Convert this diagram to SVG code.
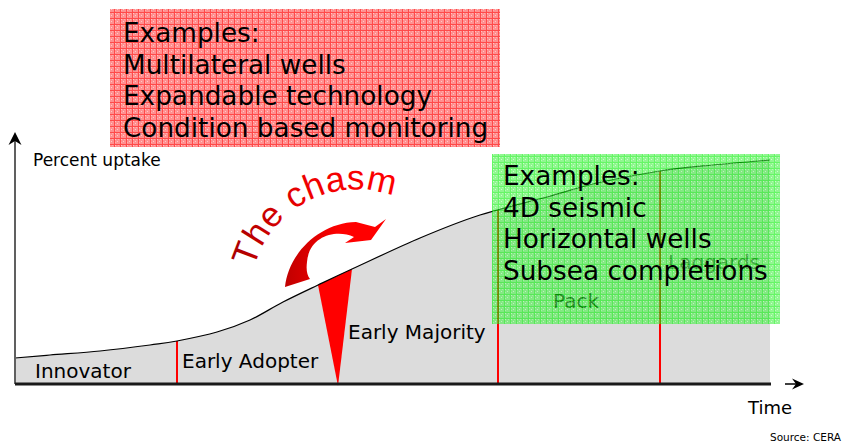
<svg xmlns="http://www.w3.org/2000/svg" width="857" height="443" viewBox="0 0 857 443">
<style>
.t{font-family:"DejaVu Sans",Verdana,sans-serif;fill:#000}
.big{font-size:26.3px}
.lbl{font-size:20px}
.red{stroke:#ff0000;stroke-width:2;fill:none}
</style>
<defs>
<pattern id="pr" width="6" height="6" patternUnits="userSpaceOnUse">
<rect width="6" height="6" fill="#ff9090"/>
<rect x="1" y="1" width="1" height="1" fill="#ffc8c8"/>
<rect x="3" y="3" width="1" height="1" fill="#ffc8c8"/>
<rect x="4" y="1" width="1" height="1" fill="#ffb0b0"/>
<rect x="1" y="4" width="1" height="1" fill="#ffb0b0"/>
<rect width="6" height="1" fill="#ff4a4a"/>
<rect width="1" height="6" fill="#ff4a4a"/>
</pattern>
<pattern id="pg" width="6" height="6" patternUnits="userSpaceOnUse">
<rect width="6" height="6" fill="#48f048"/>
<rect x="1" y="1" width="1" height="1" fill="#a8ffa8"/>
<rect x="3" y="3" width="1" height="1" fill="#a8ffa8"/>
<rect x="4" y="1" width="1" height="1" fill="#80ff80"/>
<rect x="1" y="4" width="1" height="1" fill="#80ff80"/>
<rect width="6" height="1" fill="#00f000"/>
<rect width="1" height="6" fill="#00f000"/>
</pattern>
<linearGradient id="ga" gradientUnits="userSpaceOnUse" x1="285" y1="0" x2="386" y2="0">
<stop offset="0" stop-color="#c00000"/>
<stop offset="0.55" stop-color="#ff0000"/>
<stop offset="1" stop-color="#ff0000"/>
</linearGradient>
<linearGradient id="gt" gradientUnits="userSpaceOnUse" x1="232" y1="0" x2="395" y2="0">
<stop offset="0" stop-color="#a80000"/>
<stop offset="0.45" stop-color="#ee0000"/>
<stop offset="1" stop-color="#ff0000"/>
</linearGradient>
<path id="arc" d="M254,268 A106,106 0 0 1 393,196"/>
</defs>

<g id="uptake-area">
<path d="M15,358 C20.8,357.5 35.8,356.2 50,355 C64.2,353.8 83.3,352.7 100,351 C116.7,349.3 137.2,346.7 150,345 C162.8,343.3 165.8,343.2 177,341 C188.2,338.8 204.8,335.5 217,332 C229.2,328.5 239,325 250,320 C261,315 271.7,307.8 283,302 C294.3,296.2 306.5,290.5 318,285 C329.5,279.5 335,276.8 352,269 C369,261.2 398.7,247 420,238 C441.3,229 458.8,221.8 480,215 C501.2,208.2 527.5,202.3 547,197 C566.5,191.7 578.2,187.3 597,183 C615.8,178.7 640.7,174 660,171 C679.3,168 694.7,166.8 713,165 C731.3,163.2 760.5,160.8 770,160 L770,384 L15,384 Z" fill="#dcdcdc"/>
</g>

<g id="chasm-wedge">
<polygon points="318,285 352,269 338,386" fill="#ff0000"/>
</g>

<g id="segment-dividers">
<line class="red" x1="177" y1="341" x2="177" y2="384"/>
<line class="red" x1="498" y1="210" x2="498" y2="384"/>
<line class="red" x1="660" y1="171" x2="660" y2="384"/>
</g>

<g id="uptake-curve">
<path d="M15,358 C20.8,357.5 35.8,356.2 50,355 C64.2,353.8 83.3,352.7 100,351 C116.7,349.3 137.2,346.7 150,345 C162.8,343.3 165.8,343.2 177,341 C188.2,338.8 204.8,335.5 217,332 C229.2,328.5 239,325 250,320 C261,315 271.7,307.8 283,302 C294.3,296.2 306.5,290.5 318,285 C329.5,279.5 335,276.8 352,269 C369,261.2 398.7,247 420,238 C441.3,229 458.8,221.8 480,215 C501.2,208.2 527.5,202.3 547,197 C566.5,191.7 578.2,187.3 597,183 C615.8,178.7 640.7,174 660,171 C679.3,168 694.7,166.8 713,165 C731.3,163.2 760.5,160.8 770,160" fill="none" stroke="#000" stroke-width="1.2"/>
</g>

<g id="connectors">
<line x1="15" y1="384" x2="15" y2="140" stroke="#606060" stroke-width="2"/>
<polygon points="15,132 21.5,145 15,141 8.5,145" fill="#000"/>
<line x1="15" y1="384" x2="771" y2="384" stroke="#1a1a1a" stroke-width="3"/>
<line x1="785" y1="384" x2="798" y2="384" stroke="#000" stroke-width="1.5"/>
<polygon points="804,384 792,378.5 796,384 792,389.5" fill="#000"/>
</g>

<g id="labels">
<text class="t" x="33" y="166" font-size="17">Percent uptake</text>
<text class="t lbl" x="35" y="378" font-size="21">Innovator</text>
<text class="t lbl" x="182" y="368">Early Adopter</text>
<text class="t lbl" x="348" y="339">Early Majority</text>
<text class="t lbl" x="553" y="308" style="fill:#000">Pack</text>
<text class="t lbl" x="668" y="269" style="fill:#404040">Laggards</text>
<text class="t" x="748" y="414" font-size="18">Time</text>
<text class="t" x="770" y="441" font-size="10.5">Source: CERA</text>
</g>

<g id="chasm-arrow">
<path d="M285,287 C288,255 318,223 356,222 L375,227 L386,219 L371,240 L345,243 L354,237 C336,229 309,236 307,262 C306,270 307,275 310,279 Z" fill="url(#ga)"/>
</g>

<g id="chasm-label">
<text font-family="'Liberation Sans',Arial,sans-serif" font-size="35" letter-spacing="0.4" fill="url(#gt)"><textPath href="#arc">The chasm</textPath></text>
</g>

<g id="examples-red">
<rect x="110" y="9" width="390" height="138" fill="url(#pr)"/>
<text class="t big" x="123" y="42">Examples:</text>
<text class="t big" x="123" y="73.5">Multilateral wells</text>
<text class="t big" x="123" y="105">Expandable technology</text>
<text class="t big" x="123" y="137">Condition based monitoring</text>
</g>

<g id="examples-green">
<rect x="492" y="154" width="288" height="170" fill="url(#pg)" opacity="0.6"/>
<text class="t big" x="503" y="185">Examples:</text>
<text class="t big" x="503" y="216.7">4D seismic</text>
<text class="t big" x="503" y="248.3">Horizontal wells</text>
<text class="t big" x="503" y="280">Subsea completions</text>
</g>
</svg>
